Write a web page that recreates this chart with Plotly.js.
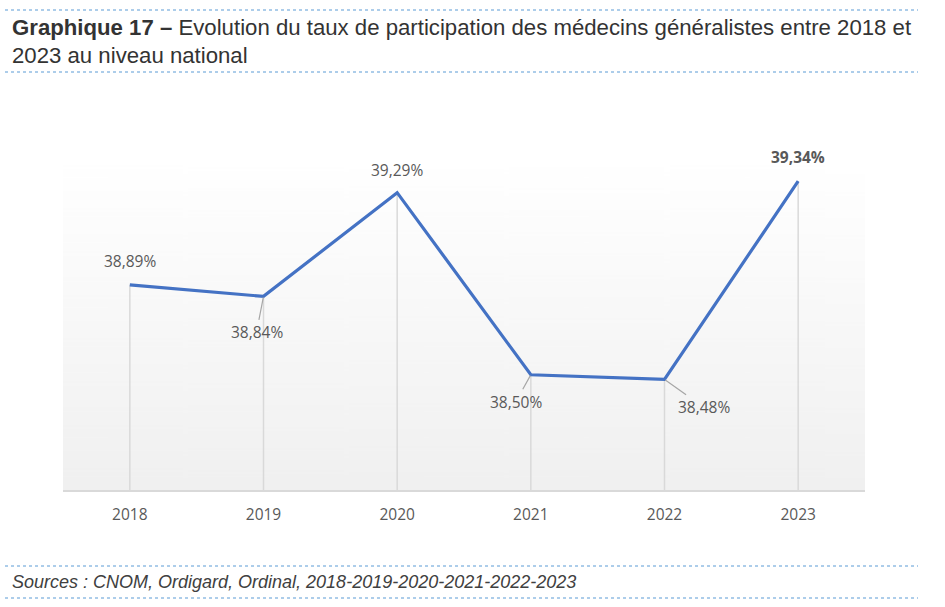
<!DOCTYPE html>
<html>
<head>
<meta charset="utf-8">
<script src="https://cdn.plot.ly/plotly-3.0.1.min.js"></script>
<style>html,body{margin:0;padding:0;background:#fff;}#chart{width:945px;height:607px;}</style>
</head>
<body>
<div id="chart"></div>
<script>
// ---- data ----
const years = ['2018', '2019', '2020', '2021', '2022', '2023'];
const rates = [38.89, 38.84, 39.29, 38.50, 38.48, 39.34];
const rateLabels = ['38,89%', '38,84%', '39,29%', '38,50%', '38,48%', '39,34%'];
const titleBold = 'Graphique 17 –';
const titleLine1 = ' Evolution du taux de participation des médecins généralistes entre 2018 et';
const titleLine2 = '2023 au niveau national';
const sourceText = 'Sources : CNOM, Ordigard, Ordinal, 2018-2019-2020-2021-2022-2023';

// ---- layout geometry ----
const L = 63, R = 865, T = 165, B = 490;
const W = 945, H = 607;
const yMin = 38.0, yMax = 39.41;
function pxX(p) { return (p - L) / (R - L); }
function pxY(p) { return (B - p) / (B - T); }

// gradient background image
const cv = document.createElement('canvas');
cv.width = 10; cv.height = 300;
const ctx = cv.getContext('2d');
const g = ctx.createLinearGradient(0, 0, 0, 300);
g.addColorStop(0, '#ffffff');
g.addColorStop(1, '#f0f0f0');
ctx.fillStyle = g;
ctx.fillRect(0, 0, 10, 300);
const bgURL = cv.toDataURL('image/png');

// drop lines built from data
const dropX = [], dropY = [];
years.forEach((y, i) => { dropX.push(y, y, null); dropY.push(rates[i], yMin, null); });

const traces = [
  {
    x: dropX, y: dropY, type: 'scatter', mode: 'lines',
    line: { color: '#d9d9d9', width: 1.5 }, hoverinfo: 'skip', showlegend: false
  },
  {
    x: years, y: rates, type: 'scatter', mode: 'lines',
    line: { color: '#4472C4', width: 3.2 }, showlegend: false
  }
];

// label placement (pixel offsets)
const labelOffsets = [
  { ax: 0, ay: -24, arrow: false, bold: false },
  { ax: -7, ay: 36, arrow: true, bold: false },
  { ax: 0, ay: -23, arrow: false, bold: false },
  { ax: -15, ay: 27, arrow: true, bold: false },
  { ax: 39, ay: 28, arrow: true, bold: false },
  { ax: 0, ay: -24, arrow: false, bold: true }
];

const labelFont = { family: 'Open Sans, Noto Sans, sans-serif', size: 15.5, color: '#595959' };
const annotations = years.map((yr, i) => {
  const o = labelOffsets[i];
  return {
    x: i, y: rates[i], xref: 'x', yref: 'y',
    text: o.bold ? '<b>' + rateLabels[i] + '</b>' : rateLabels[i],
    showarrow: true, arrowhead: 0, arrowwidth: 1.2,
    arrowcolor: o.arrow ? '#a6a6a6' : 'rgba(255,255,255,0)',
    ax: o.ax, ay: o.ay, standoff: 1,
    font: labelFont
  };
});

const titleFont = { family: 'Liberation Sans, Arial, sans-serif', size: 22.2, color: '#333333' };
annotations.push({
  xref: 'paper', yref: 'paper', x: pxX(10), y: pxY(27), xanchor: 'left', yanchor: 'middle',
  text: '<b>' + titleBold + '</b>' + titleLine1, showarrow: false, font: titleFont
});
annotations.push({
  xref: 'paper', yref: 'paper', x: pxX(10), y: pxY(55), xanchor: 'left', yanchor: 'middle',
  text: titleLine2, showarrow: false, font: titleFont
});
annotations.push({
  xref: 'paper', yref: 'paper', x: pxX(10), y: pxY(582), xanchor: 'left', yanchor: 'middle',
  text: '<i>' + sourceText + '</i>', showarrow: false,
  font: { family: 'Liberation Sans, Arial, sans-serif', size: 18, color: '#404040' }
});

function dotLine(py) {
  return {
    type: 'line', xref: 'paper', yref: 'paper',
    x0: pxX(5), x1: pxX(918), y0: pxY(py), y1: pxY(py),
    line: { color: '#5b9bd5', width: 1, dash: 'dot' }
  };
}

const layout = {
  width: W, height: H,
  margin: { l: L, r: W - R, t: T, b: H - B, pad: 0 },
  paper_bgcolor: '#ffffff',
  plot_bgcolor: 'rgba(0,0,0,0)',
  showlegend: false,
  xaxis: {
    type: 'category', range: [-0.5, 5.5], fixedrange: true,
    showgrid: false, zeroline: false,
    showline: true, linecolor: '#d9d9d9', linewidth: 2,
    ticks: 'outside', ticklen: 9, tickcolor: 'rgba(0,0,0,0)',
    tickfont: { family: 'Open Sans, Noto Sans, sans-serif', size: 15.5, color: '#595959' }
  },
  yaxis: {
    range: [yMin, yMax], fixedrange: true,
    showgrid: false, zeroline: false, showline: false, showticklabels: false, ticks: ''
  },
  images: [{
    source: bgURL, xref: 'paper', yref: 'paper', x: 0, y: 1, sizex: 1, sizey: 1,
    sizing: 'stretch', layer: 'below', xanchor: 'left', yanchor: 'top'
  }],
  shapes: [dotLine(10), dotLine(72), dotLine(566), dotLine(598)],
  annotations: annotations
};

Plotly.newPlot('chart', traces, layout, { displayModeBar: false, staticPlot: true });
</script>
</body>
</html>
